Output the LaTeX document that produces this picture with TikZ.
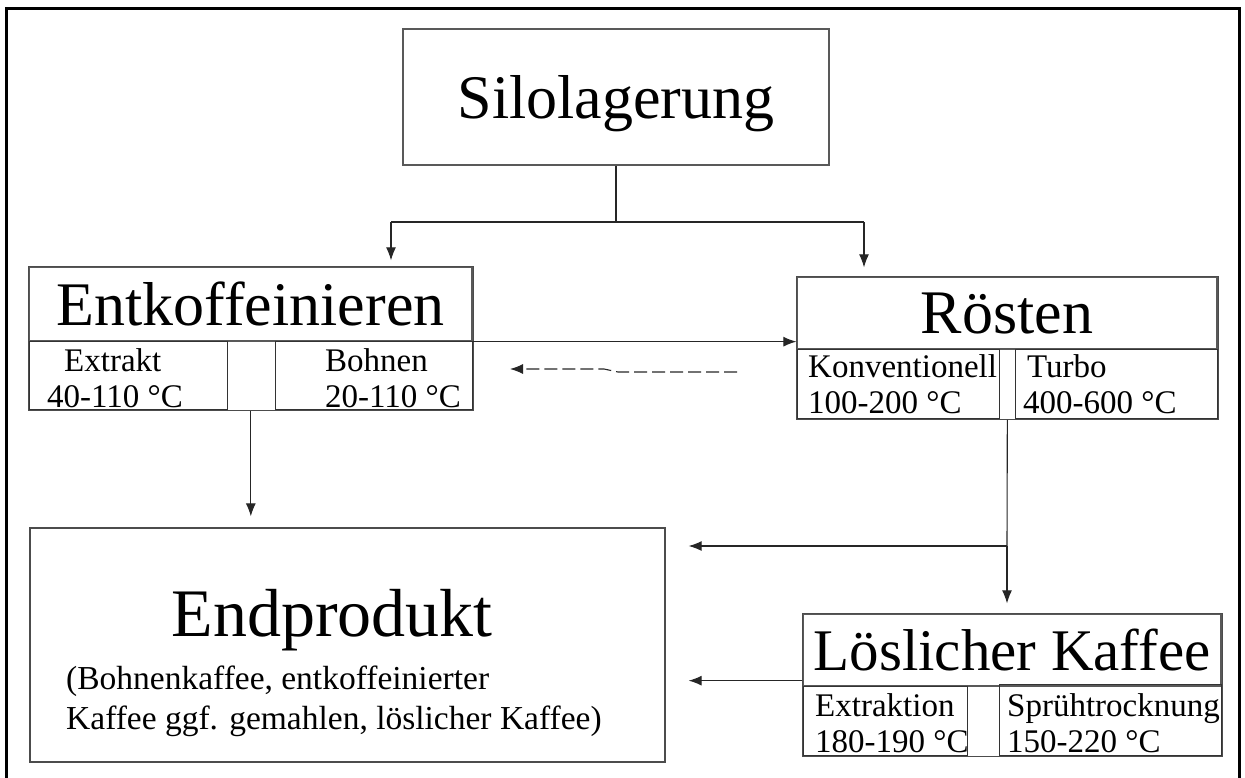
\documentclass[tikz,border=0pt]{standalone}
\usepackage{fontspec}
\setmainfont{Liberation Serif}
\usetikzlibrary{arrows.meta,fit}

\begin{document}
\begin{tikzpicture}[x=1pt,y=-1pt,>={Latex[length=13pt,width=10pt]},
	kopf/.style={draw=black!65,line width=1.3pt,inner sep=0,text depth=0pt,font=\fontsize{62}{66}\selectfont},
	fach/.style={draw=black!80,line width=1.3pt,inner sep=0,anchor=north west},
	rahmen/.style={draw=black!70,line width=1.3pt,inner sep=0},
	angabe/.style={inner sep=0,anchor=north west,align=left,font=\fontsize{33}{36.5}\selectfont},
	linie/.style={draw=black!85,line width=1.1pt},
	pfeil/.style={linie,->}]
	\useasboundingbox (0,0) rectangle (1245,777);
	% Rahmen, unten offen
	\draw[line width=3pt] (6,790) -- (6,8) -- (1239,8) -- (1239,790);

	\node[kopf,minimum width=426pt,minimum height=136pt] (silo) at (616,97) {Silolagerung};

	% Entkoffeinieren
	\node[kopf,minimum width=443pt,minimum height=74pt] (entk) at (250.5,304) {Entkoffeinieren};
	\node[fach,minimum width=198pt,minimum height=68pt] (extrakt) at (29,341) {};
	\node[fach,minimum width=197pt,minimum height=68pt] (bohnen) at (275,341) {};
	\node[rahmen,fit=(entk)(extrakt)(bohnen)] (entk-rahmen) {};
	\node[angabe] (extrakt-t) at (47,348) {\hspace*{17pt}Extrakt\\40-110 °C};
	\node[angabe] (bohnen-t) at (325,348) {Bohnen\\20-110 °C};

	% Roesten
	\node[kopf,minimum width=420pt,minimum height=72pt] (roesten) at (1007,313) {Rösten};
	\node[fach,minimum width=202pt,minimum height=69pt] (konv) at (797,349) {};
	\node[fach,minimum width=202pt,minimum height=69pt] (turbo) at (1015,349) {};
	\node[rahmen,fit=(roesten)(konv)(turbo)] (roesten-rahmen) {};
	\node[angabe] (konv-t) at (808,354) {Konventionell\\100-200 °C};
	\node[angabe] (turbo-t) at (1023,354) {\hspace*{4pt}Turbo\\400-600 °C};

	% Endprodukt
	\node[rahmen,minimum width=635pt,minimum height=234pt] (endprodukt) at (347.5,645) {};
	\node[inner sep=0,anchor=base,font=\fontsize{68}{72}\selectfont] (endprodukt-t) at (332,636) {Endprodukt};
	\node[angabe,font=\fontsize{33.5}{40}\selectfont] (endprodukt-u) at (66,666) {(Bohnenkaffee, entkoffeinierter\\Kaffee ggf. gemahlen, löslicher Kaffee)};

	% Loeslicher Kaffee
	\node[kopf,font=\fontsize{59}{63}\selectfont,minimum width=418pt,minimum height=72pt] (loeslich) at (1012,650) {Löslicher Kaffee};
	\node[fach,minimum width=164pt,minimum height=69pt] (extraktion) at (803,686) {};
	\node[fach,minimum width=222pt,minimum height=71pt] (spruehen) at (999,684) {};
	\node[rahmen,fit=(loeslich)(extraktion)(spruehen)] (loeslich-rahmen) {};
	\node[angabe] (extraktion-t) at (815,693) {Extraktion\\180-190 °C};
	\node[angabe] (spruehen-t) at (1007,693) {Sprühtrocknung\\150-220 °C};

	% Verbindungen
	\coordinate (gabel) at (616,222);
	\coordinate (links) at (391,222);
	\coordinate (rechts) at (864,222);
	\draw[linie] (silo) -- (gabel);
	\draw[linie] (links) -- (rechts);
	\draw[pfeil,shorten >=6pt] (links) -- (links |- entk.north);
	\draw[pfeil,shorten >=9pt] (rechts) -- (rechts |- roesten.north);
	\draw[pfeil] (entk.south east) -- (entk.south east -| roesten.west);
	\coordinate (rueck-a) at (737,372);
	\coordinate (rueck-b) at (510,369);
	\draw[pfeil,dash pattern=on 13pt off 5pt] (rueck-a) -- (618,372) -- (604,369) -- (rueck-b);
	\draw[pfeil,shorten >=11pt] (entk-rahmen.south) -- (entk-rahmen.south |- endprodukt.north);
	\coordinate (verteiler) at (1007,546);
	\draw[linie] (roesten-rahmen.south) -- (verteiler);
	\draw[pfeil,shorten >=23pt] (verteiler) -- (verteiler -| endprodukt.east);
	\draw[pfeil,shorten >=10pt] (verteiler) -- (verteiler |- loeslich.north);
	\draw[pfeil,shorten >=23pt] ([yshift=6pt]loeslich.south west) -- ([yshift=6pt]loeslich.south west -| endprodukt.east);
\end{tikzpicture}
\end{document}
